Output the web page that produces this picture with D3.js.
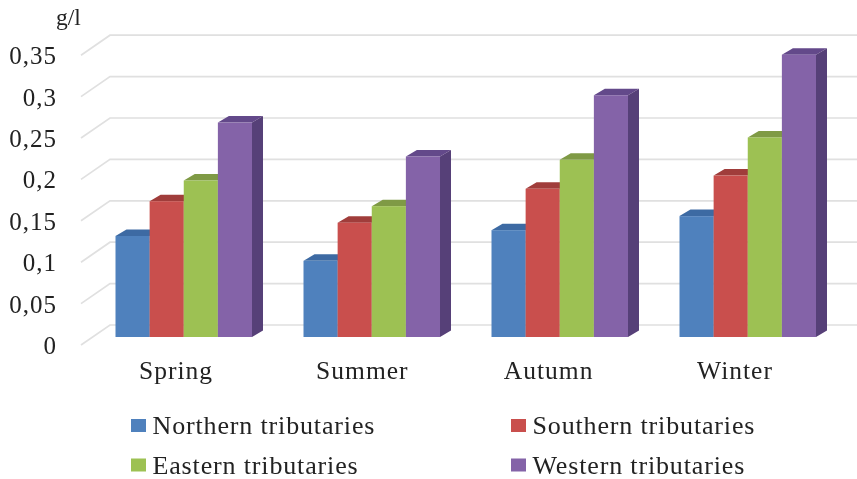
<!DOCTYPE html>
<html><head><meta charset="utf-8">
<script src="https://cdn.jsdelivr.net/npm/d3@7/dist/d3.min.js"></script>
<style>html,body{margin:0;background:#fff}svg{display:block}text{font-family:"Liberation Serif",serif;fill:#222}</style>
</head><body><svg width="857" height="479"></svg>
<script>
const categories = ["Spring","Summer","Autumn","Winter"];
const seriesNames = ["Northern tributaries","Southern tributaries","Eastern tributaries","Western tributaries"];
const northern = [0.122,0.092,0.129,0.146];
const southern = [0.164,0.138,0.179,0.195];
const eastern  = [0.189,0.158,0.214,0.241];
const western  = [0.259,0.218,0.292,0.341];
const tickValues = [0,0.05,0.1,0.15,0.2,0.25,0.3,0.35];
const tickLabels = ["0","0,05","0,1","0,15","0,2","0,25","0,3","0,35"];
const seriesValues = [northern,southern,eastern,western];
const frontColors = ["#4f81bd","#c9504d","#9dc153","#8464a8"];
const topColors = ["#3d6ba3","#a03c3a","#7f9a45","#64488a"];
const sideColors = ["#345a8a","#823230","#66803a","#573f78"];

const svg = d3.select("svg");
const defs = svg.append("defs");
defs.append("filter").attr("id","soft").attr("x","-5%").attr("y","-5%").attr("width","110%").attr("height","110%")
  .append("feGaussianBlur").attr("stdDeviation",0.55);
const root = svg.append("g").attr("filter","url(#soft)");

const y = d3.scaleLinear().domain([0,0.35]).range([337,47.2]);
const x0 = d3.scaleBand().domain(categories).range([115.5,867.5]).paddingInner(0).paddingOuter(0);
const groupW = 136.5;
const x1 = d3.scaleBand().domain(d3.range(4)).range([0,groupW]);
const xLabel = d3.scalePoint().domain(categories).range([176,735]);
const dx=11, dy=6.5;

// grid
const grid = root.append("g").attr("fill","none").attr("stroke","#e0e0e0").attr("stroke-width",1.7);
tickValues.forEach(t=>{
  const v=y(t);
  grid.append("path").attr("d",`M81,${v+8}L110,${v-12}L857,${v-12}`);
});
// axis labels
const axis = d3.axisLeft(y).tickValues(tickValues).tickFormat((d,i)=>tickLabels[i]).tickSize(0).tickPadding(0);
const ag = root.append("g").attr("transform","translate(57,8.5)").call(axis);
ag.select(".domain").remove();
ag.selectAll("text").style("font-size","25px").attr("letter-spacing","1px");

root.append("text").attr("x",56).attr("y",25).style("font-size","23.5px").text("g/l");

// bars
categories.forEach((c,ci)=>{
  const g = root.append("g");
  seriesValues.forEach((vals,si)=>{
    const l = x0(c)+x1(si), w=x1.bandwidth(), t=y(vals[ci]), b=y(0);
    g.append("path").attr("fill",topColors[si]).attr("d",`M${l},${t}L${l+dx},${t-dy}L${l+w+dx},${t-dy}L${l+w},${t}Z`);
    g.append("path").attr("fill",sideColors[si]).attr("d",`M${l+w},${t}L${l+w+dx},${t-dy}L${l+w+dx},${b-dy}L${l+w},${b}Z`);
    g.append("rect").attr("x",l).attr("y",t).attr("width",w).attr("height",b-t).attr("fill",frontColors[si]);
  });
  root.append("text").attr("x",xLabel(c)).attr("y",379).attr("text-anchor","middle").style("font-size","25.5px").attr("letter-spacing","1px").text(c);
});

// legend
const legendX = d3.scaleOrdinal().domain([0,1]).range([131,511]);
const legendY = d3.scaleOrdinal().domain([0,1]).range([426,465.5]);
seriesNames.forEach((n,i)=>{
  const lx=legendX(i%2), ly=legendY(Math.floor(i/2));
  root.append("rect").attr("x",lx).attr("y",ly-7).attr("width",15).attr("height",13).attr("fill",frontColors[i]);
  root.append("text").attr("x",lx+21.5).attr("y",ly+8).style("font-size","26px").attr("letter-spacing","0.85px").text(n);
});
</script></body></html>
